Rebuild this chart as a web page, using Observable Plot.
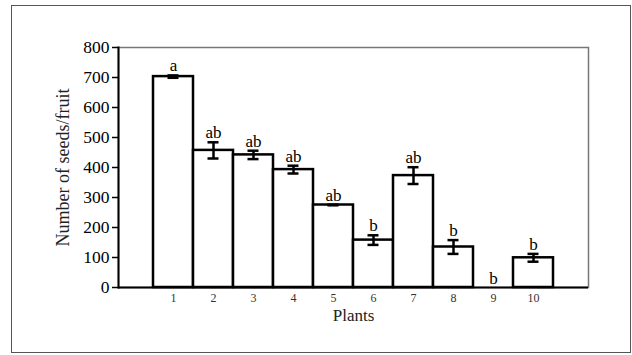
<!DOCTYPE html>
<html>
<head>
<meta charset="utf-8">
<script src="https://cdn.jsdelivr.net/npm/d3@7"></script>
<script src="https://cdn.jsdelivr.net/npm/@observablehq/plot@0.6"></script>
<style>
  html, body { margin: 0; padding: 0; background: #fff; }
  #wrap { position: relative; width: 632px; height: 355px; }
  #border { position: absolute; left: 11px; top: 5px; width: 618px; height: 346px; border: 1.5px solid #555; pointer-events: none; }
</style>
</head>
<body>
<div id="wrap"><div id="border"></div></div>
<script>
const plants = ["1", "2", "3", "4", "5", "6", "7", "8", "9", "10"];
const seeds = [703, 457, 442, 393, 275, 158, 373, 135, 0, 99];
const errors = [4, 27, 14, 13, 1, 16, 28, 23, 0, 13];
const letters = ["a", "ab", "ab", "ab", "ab", "b", "ab", "b", "b", "b"];
const yTicks = [0, 100, 200, 300, 400, 500, 600, 700, 800];
const xTitle = "Plants";
const yTitle = "Number of seeds/fruit";

const data = plants.map((p, i) => ({plant: p, value: seeds[i], err: errors[i], letter: letters[i]}));
const hasErr = data.filter(d => d.value > 0);

const font = "'Liberation Serif', 'Times New Roman', serif";

const chart = Plot.plot({
  width: 632,
  height: 355,
  marginLeft: 118,
  marginRight: 44,
  marginTop: 47,
  marginBottom: 68,
  style: {fontFamily: font, background: "transparent", overflow: "visible"},
  x: {domain: plants, paddingInner: 0, paddingOuter: 0.76, label: null},
  y: {domain: [0, 800], label: null},
  marks: [
    Plot.frame({stroke: "#777", strokeWidth: 1.5}),
    Plot.barY(data, {x: "plant", y: "value", fill: "white", stroke: "black", strokeWidth: 2.5}),
    Plot.ruleX(hasErr, {x: "plant", y1: d => d.value - d.err, y2: d => d.value + d.err, stroke: "black", strokeWidth: 2.5}),
    Plot.tickY(hasErr, {x: "plant", y: d => d.value + d.err, stroke: "black", strokeWidth: 2.5, insetLeft: 14.5, insetRight: 14.5}),
    Plot.tickY(hasErr, {x: "plant", y: d => d.value - d.err, stroke: "black", strokeWidth: 2.5, insetLeft: 14.5, insetRight: 14.5}),
    Plot.text(data, {x: "plant", y: d => d.value + d.err, text: "letter", lineAnchor: "bottom", dy: -4, fontSize: 17, fill: "black", fontFamily: font}),
    Plot.ruleY([0], {stroke: "black", strokeWidth: 2}),
    Plot.frame({anchor: "left", stroke: "black", strokeWidth: 2}),
    Plot.axisY({ticks: yTicks, tickSize: 6, tickPadding: 3, tickFormat: d => String(d), fontSize: 17.5, stroke: "black", strokeWidth: 1.5, fill: "black", label: null, fontFamily: font}),
    Plot.axisX({tickSize: 0, tickPadding: 6, fontSize: 12, fill: "#333", fontFamily: font, label: null}),
    Plot.text([xTitle], {frameAnchor: "bottom", dy: 33, fontSize: 17, fill: "#222", fontFamily: font}),
    Plot.text([yTitle], {frameAnchor: "left", textAnchor: "middle", dx: -55, rotate: -90, fontSize: 18, fill: "#222", fontFamily: font})
  ]
});
document.getElementById("wrap").prepend(chart);
</script>
</body>
</html>
